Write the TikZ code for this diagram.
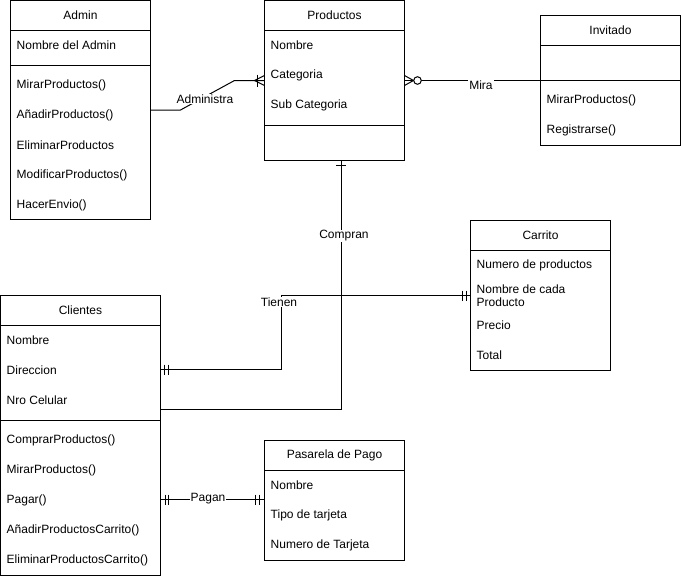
\documentclass[tikz,border=0pt]{standalone}
\usepackage{fontspec}
\setmainfont{Liberation Sans}
\newcommand{\fs}{\fontsize{12pt}{13pt}\selectfont}
\begin{document}
\begin{tikzpicture}[x=1pt,y=-1pt,
  box/.style={draw, line width=1pt, fill=white, anchor=north west, inner sep=0pt, outer sep=0pt},
  ttl/.style={anchor=center, inner sep=0pt, font=\fs},
  item/.style={anchor=west, inner sep=0pt, font=\fs},
  sep/.style={line width=1pt},
  lnk/.style={line width=1pt},
  mk/.style={line width=1pt},
  lbl/.style={fill=white, inner sep=1pt, font=\fs}]
\useasboundingbox (0,0) rectangle (681,576);

% ---------- Admin ----------
\node[box, minimum width=140pt, minimum height=219pt] (admin) at (10.5,0.5) {};
\node[ttl] (admin-t) at ([yshift=-15pt]admin.north) {Admin};
\draw[sep] ([yshift=-30pt]admin.north west) -- ([yshift=-30pt]admin.north east);
\node[item] (admin-a1) at ([xshift=6pt,yshift=-44.5pt]admin.north west) {Nombre del Admin};
\draw[sep] ([yshift=-65pt]admin.north west) -- ([yshift=-65pt]admin.north east);
\node[item] (admin-m1) at ([xshift=6pt,yshift=-84.5pt]admin.north west) {MirarProductos()};
\node[item] (admin-m2) at ([xshift=6pt,yshift=-114.5pt]admin.north west) {AñadirProductos()};
\node[item] (admin-m3) at ([xshift=6pt,yshift=-144.5pt]admin.north west) {EliminarProductos};
\node[item] (admin-m4) at ([xshift=6pt,yshift=-174.5pt]admin.north west) {ModificarProductos()};
\node[item] (admin-m5) at ([xshift=6pt,yshift=-204.5pt]admin.north west) {HacerEnvio()};

% ---------- Productos ----------
\node[box, minimum width=140pt, minimum height=160pt] (prod) at (264.5,0.5) {};
\node[ttl] (prod-t) at ([yshift=-15pt]prod.north) {Productos};
\draw[sep] ([yshift=-30pt]prod.north west) -- ([yshift=-30pt]prod.north east);
\node[item] (prod-a1) at ([xshift=6pt,yshift=-44.5pt]prod.north west) {Nombre};
\node[item] (prod-a2) at ([xshift=6pt,yshift=-74.5pt]prod.north west) {Categoria};
\node[item] (prod-a3) at ([xshift=6pt,yshift=-104.5pt]prod.north west) {Sub Categoria};
\draw[sep] ([yshift=-125pt]prod.north west) -- ([yshift=-125pt]prod.north east);

% ---------- Invitado ----------
\node[box, minimum width=140pt, minimum height=130pt] (inv) at (540.5,15.5) {};
\node[ttl] (inv-t) at ([yshift=-15pt]inv.north) {Invitado};
\draw[sep] ([yshift=-30pt]inv.north west) -- ([yshift=-30pt]inv.north east);
\draw[sep] ([yshift=-65pt]inv.north west) -- ([yshift=-65pt]inv.north east);
\node[item] (inv-m1) at ([xshift=6pt,yshift=-84.5pt]inv.north west) {MirarProductos()};
\node[item] (inv-m2) at ([xshift=6pt,yshift=-114.5pt]inv.north west) {Registrarse()};

% ---------- Carrito ----------
\node[box, minimum width=140pt, minimum height=150pt] (cart) at (470.5,220.5) {};
\node[ttl] (cart-t) at ([yshift=-15pt]cart.north) {Carrito};
\draw[sep] ([yshift=-30pt]cart.north west) -- ([yshift=-30pt]cart.north east);
\node[item] (cart-a1) at ([xshift=6pt,yshift=-45pt]cart.north west) {Numero de productos};
\node[item, align=left] (cart-a2) at ([xshift=6pt,yshift=-75.5pt]cart.north west) {Nombre de cada\\Producto};
\node[item] (cart-a3) at ([xshift=6pt,yshift=-104.5pt]cart.north west) {Precio};
\node[item] (cart-a4) at ([xshift=6pt,yshift=-134.5pt]cart.north west) {Total};

% ---------- Clientes ----------
\node[box, minimum width=160pt, minimum height=280pt] (cli) at (0.5,295.5) {};
\node[ttl] (cli-t) at ([yshift=-15pt]cli.north) {Clientes};
\draw[sep] ([yshift=-30pt]cli.north west) -- ([yshift=-30pt]cli.north east);
\node[item] (cli-a1) at ([xshift=6pt,yshift=-44.5pt]cli.north west) {Nombre};
\node[item] (cli-a2) at ([xshift=6pt,yshift=-74.5pt]cli.north west) {Direccion};
\node[item] (cli-a3) at ([xshift=6pt,yshift=-104.5pt]cli.north west) {Nro Celular};
\draw[sep] ([yshift=-125pt]cli.north west) -- ([yshift=-125pt]cli.north east);
\node[item] (cli-m1) at ([xshift=6pt,yshift=-144.5pt]cli.north west) {ComprarProductos()};
\node[item] (cli-m2) at ([xshift=6pt,yshift=-174.5pt]cli.north west) {MirarProductos()};
\node[item] (cli-m3) at ([xshift=6pt,yshift=-204.5pt]cli.north west) {Pagar()};
\node[item] (cli-m4) at ([xshift=6pt,yshift=-234.5pt]cli.north west) {AñadirProductosCarrito()};
\node[item] (cli-m5) at ([xshift=6pt,yshift=-264.5pt]cli.north west) {EliminarProductosCarrito()};

% ---------- Pasarela de Pago ----------
\node[box, minimum width=140pt, minimum height=120pt] (pas) at (264.5,440.5) {};
\node[ttl] (pas-t) at ([yshift=-15pt]pas.north) {Pasarela de Pago};
\draw[sep] ([yshift=-30pt]pas.north west) -- ([yshift=-30pt]pas.north east);
\node[item] (pas-a1) at ([xshift=6pt,yshift=-44.5pt]pas.north west) {Nombre};
\node[item] (pas-a2) at ([xshift=6pt,yshift=-74.5pt]pas.north west) {Tipo de tarjeta};
\node[item] (pas-a3) at ([xshift=6pt,yshift=-104.5pt]pas.north west) {Numero de Tarjeta};

% ---------- Relations ----------
% Administra: Admin -> Productos (one or many)
\coordinate (adm-in) at ([yshift=-80pt]prod.north west);
\draw[lnk] ([yshift=-109.5pt]admin.north east) -- ++(30,0) -- ++(54,-29.5) -- (adm-in);
\draw[mk] ([xshift=-7pt,yshift=6pt]adm-in) -- ++(0,12);
\draw[mk] ([xshift=-10pt]adm-in) -- ([yshift=5pt]adm-in);
\draw[mk] ([xshift=-10pt]adm-in) -- ([yshift=-5pt]adm-in);
\node[lbl] (lbl-adm) at (205,99) {Administra};

% Mira: Productos (zero or many) -- Invitado
\coordinate (mira-out) at ([yshift=-80pt]prod.north east);
\draw[lnk] (mira-out) -- ([yshift=-65pt]inv.north west);
\draw[mk] ([xshift=9pt]mira-out) -- ([yshift=5pt]mira-out);
\draw[mk] ([xshift=9pt]mira-out) -- ([yshift=-5pt]mira-out);
\draw[mk, fill=white] ([xshift=13pt]mira-out) circle (3.8pt);
\node[lbl] (lbl-mira) at (481,85) {Mira};

% Compran: Productos (one) -- Clientes
\coordinate (comp-out) at ([xshift=76.5pt]prod.south west);
\draw[lnk] (comp-out) |- ([yshift=-113.5pt]cli.north east);
\draw[mk] ([xshift=-5pt,yshift=-5pt]comp-out) -- ++(10,0);
\node[lbl] (lbl-comp) at (344,236) {Compran};

% Tienen: Clientes (one and only one) -- Carrito (one and only one)
\coordinate (tien-a) at ([yshift=-74pt]cli.north east);
\coordinate (tien-b) at ([yshift=-75pt]cart.north west);
\draw[lnk] (tien-a) -- ++(120.5,0) |- (tien-b);
\draw[mk] ([xshift=4pt,yshift=5pt]tien-a) -- ++(0,10);
\draw[mk] ([xshift=7.5pt,yshift=5pt]tien-a) -- ++(0,10);
\draw[mk] ([xshift=-4.5pt,yshift=5pt]tien-b) -- ++(0,10);
\draw[mk] ([xshift=-8pt,yshift=5pt]tien-b) -- ++(0,10);
\node[lbl] (lbl-tien) at (279,302) {Tienen};

% Pagan: Clientes (one and only one) -- Pasarela de Pago (one and only one)
\coordinate (pag-a) at ([yshift=-204pt]cli.north east);
\coordinate (pag-b) at ([yshift=-59pt]pas.north west);
\draw[lnk] (pag-a) -- (pag-b);
\draw[mk] ([xshift=4.5pt,yshift=5pt]pag-a) -- ++(0,10);
\draw[mk] ([xshift=8pt,yshift=5pt]pag-a) -- ++(0,10);
\draw[mk] ([xshift=-5.5pt,yshift=5pt]pag-b) -- ++(0,10);
\draw[mk] ([xshift=-9pt,yshift=5pt]pag-b) -- ++(0,10);
\node[lbl] (lbl-pag) at (208,499) {Pagan};
\end{tikzpicture}
\end{document}
